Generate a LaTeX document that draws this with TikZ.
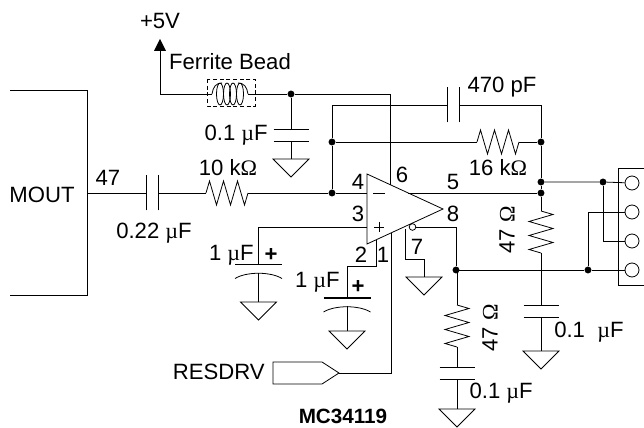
\documentclass[tikz,border=0pt]{standalone}
\usepackage{fontspec}
\setmainfont{Liberation Sans}
\newfontfamily\symfont{Liberation Serif}
\newcommand{\micro}{{\symfont µ}}
\newcommand{\ohm}{{\symfont Ω}}
\tikzset{
    wire/.style={line width=0.6pt},
    junction/.style={circle, fill=black, inner sep=0pt, minimum size=5.2pt},
    pinhole/.style={circle, draw, fill=white, line width=0.6pt, inner sep=0pt, minimum size=10.5pt},
    lbl/.style={inner sep=0pt, font=\fontsize{16.6}{19}\selectfont},
    pinlbl/.style={lbl},
    gndsym/.pic={\draw[wire] (-18,0) -- (18,0) -- (0,18) -- cycle;},
    resistor/.pic={\draw[wire] (0,0) -- (3.5,-12) -- (10.5,12) -- (17.5,-12) -- (24.5,12) -- (31.5,-12) -- (38.5,12) -- (42,0);},
    capacitor/.pic={\draw[wire] (-17.5,0) -- (17.5,0) (-17.5,12) -- (17.5,12);},
    polcap/.pic={\draw[line width=0.8pt] (-23.5,0) -- (23.5,0);
        \draw[wire] (-23.5,14) .. controls (-12,7) and (12,7) .. (23.5,14);}
}
\begin{document}
\begin{tikzpicture}[x=0.75pt, y=-0.75pt]
\useasboundingbox (0,0) rectangle (644,428);

% Junctions
\node[junction] (jbead) at (291,94) {};
\node[junction] (jfb) at (332,142) {};
\node[junction] (jin) at (332,193) {};
\node[junction] (jfbr) at (541,142) {};
\node[junction] (jout) at (541,182) {};
\node[junction] (jfive) at (541,193) {};
\node[junction] (jtop) at (603,182) {};
\node[junction] (jeight) at (456,270) {};
\node[junction] (jret) at (588,270) {};

% Connector block
\draw[wire] (10,90) -- (87,90) -- (87,295) -- (10,295);
\draw[wire] (644,168) -- (618,168) -- (618,285) -- (644,285);
\node[pinhole] (pina) at (632,183) {};
\node[pinhole] (pinb) at (632,212) {};
\node[pinhole] (pinc) at (632,241) {};
\node[pinhole] (pind) at (632,270) {};

% Amplifier
\coordinate (ampa) at (367,174);
\coordinate (ampb) at (367,244);
\coordinate (ampc) at (443,209);
\draw[wire] (ampa) -- (ampc) -- (ampb) -- cycle;
\draw[wire] (373,193) -- (385,193);
\draw[wire] (374,227) -- (384,227) (379,222) -- (379,232);
\node[circle, draw, line width=0.6pt, inner sep=0pt, minimum size=5pt] (bubble) at (412.5,227) {};

% Supply and ferrite bead
\coordinate (vcc) at (160,94);
\coordinate (beadl) at (212,94);
\coordinate (beadr) at (248,94);
\coordinate (sixtop) at (390,94);
\coordinate (sixa) at (390,185);
\draw[wire] (vcc) -- (beadl);
\draw[wire] (beadr) -- (jbead);
\draw[wire] (jbead) -- (sixtop) -- (sixa);
\draw[wire] (vcc) -- (160,50);
\fill (160,39) -- (166,51) -- (154,51) -- cycle;
\draw[wire, densely dashed] (207,79) rectangle (255,106);
\draw[wire] (beadl) .. controls (213,87) and (216,83) .. (222,83);
\draw[wire] (238,83) .. controls (244,83) and (247,87) .. (beadr);
\foreach \cx in {220,227,233,240} {\draw[wire] (\cx,94) ellipse (3.5 and 11);}
\draw[wire] (jbead) -- (291,129);
\pic at (291,129) {capacitor};
\draw[wire] (291,141) -- (291,159);
\pic at (291,159) {gndsym};

% Input path
\coordinate (inw) at (87,193);
\coordinate (cinl) at (146,193);
\coordinate (cinr) at (158,193);
\coordinate (rinl) at (206,193);
\coordinate (rinr) at (248,193);
\draw[wire] (inw) -- (cinl);
\pic[rotate=90] at (cinl) {capacitor};
\draw[wire] (cinr) -- (rinl);
\pic at (rinl) {resistor};
\draw[wire] (rinr) -- (jin);
\draw[wire] (jin) -- (367,193);
\draw[wire] (408,193) -- (jfive);

% Feedback
\coordinate (fbtop) at (332,105);
\coordinate (cfbl) at (447,105);
\coordinate (cfbr) at (459,105);
\coordinate (fbcorner) at (541,105);
\coordinate (rfbl) at (477,142);
\coordinate (rfbr) at (519,142);
\draw[wire] (jin) -- (jfb) -- (fbtop) -- (cfbl);
\pic[rotate=90] at (cfbl) {capacitor};
\draw[wire] (cfbr) -- (fbcorner) -- (jfbr) -- (jout) -- (jfive);
\draw[wire] (jfb) -- (rfbl);
\pic at (rfbl) {resistor};
\draw[wire] (rfbr) -- (jfbr);

% Output to connector
\draw[wire] (jout) -- (jtop) -- (pina);
\draw[wire] (jtop) -- (603,241) -- (pinc);
\draw[wire] (jret) -- (588,212) -- (pinb);
\draw[wire] (jeight) -- (jret) -- (pind);

% Snubber on pin 5
\coordinate (rsa) at (541,211);
\coordinate (rsb) at (541,253);
\draw[wire] (jfive) -- (rsa);
\pic[rotate=-90] at (rsa) {resistor};
\draw[wire] (rsb) -- (541,305);
\pic at (541,305) {capacitor};
\draw[wire] (541,317) -- (541,351);
\pic at (541,351) {gndsym};

% Snubber on pin 8
\coordinate (eighta) at (456,227);
\coordinate (rta) at (457,305);
\coordinate (rtb) at (457,347);
\draw[wire] (bubble) -- (eighta) -- (jeight);
\draw[wire] (jeight) -- (457,270) -- (rta);
\pic[rotate=-90] at (rta) {resistor};
\draw[wire] (rtb) -- (457,367);
\pic at (457,367) {capacitor};
\draw[wire] (457,379) -- (457,409);
\pic at (457,409) {gndsym};

% Pin 7
\draw[wire] (405,229) -- (405,259) -- (424,259) -- (424,277);
\pic at (424,277) {gndsym};

% Pin 3
\draw[wire] (367,227) -- (258.5,227) -- (258.5,264.5);
\pic at (258.5,264.5) {polcap};
\draw[wire] (258.5,273) -- (258.5,302);
\pic at (258.5,302) {gndsym};

% Pin 2
\draw[wire] (376,240) -- (376,266) -- (347,266) -- (347,298);
\pic at (347,298) {polcap};
\draw[wire] (347,306) -- (347,331);
\pic at (347,331) {gndsym};

% Pin 1 and RESDRV
\coordinate (tagtip) at (339,373);
\coordinate (onecorner) at (391,373);
\draw[wire] (273,362) -- (322,362) -- (tagtip) -- (322,384) -- (273,384) -- cycle;
\draw[wire] (tagtip) -- (onecorner) -- (391,233);

% Labels
\node[lbl] (lfive) at (160,21) {+5V};
\node[lbl] (lbead) at (230,62) {Ferrite Bead};
\node[lbl, anchor=east] (lcbead) at (268,135) {0.1 \micro F};
\node[lbl] (lpf) at (502,87) {470 pF};
\node[lbl] (lrfb) at (498,168) {16 k\ohm};
\node[lbl] (lrin) at (228,168) {10 k\ohm};
\node[lbl] (lmout) at (42,195) {MOUT};
\node[lbl] (lforty) at (108,178) {47};
\node[lbl] (lcin) at (154,233) {0.22 \micro F};
\node[lbl, anchor=east] (lone) at (254,255) {1 \micro F};
\node[lbl, font=\fontsize{16.6}{19}\bfseries] (lpa) at (271,255) {+};
\node[lbl, anchor=east] (ltwo) at (340,282) {1 \micro F};
\node[lbl, font=\fontsize{16.6}{19}\bfseries] (lpb) at (358,287) {+};
\node[pinlbl] (pfour) at (358,182) {4};
\node[pinlbl] (pthree) at (358,214) {3};
\node[pinlbl] (ptwo) at (361,255) {2};
\node[pinlbl] (pone) at (383,255) {1};
\node[pinlbl] (psix) at (402,175) {6};
\node[pinlbl] (pfivel) at (453,182) {5};
\node[pinlbl] (peight) at (453,214) {8};
\node[pinlbl] (pseven) at (417,247) {7};
\node[lbl, rotate=90] (lrs) at (507,230) {47 \ohm};
\node[lbl, rotate=90] (lrt) at (490,328) {47 \ohm};
\node[lbl, anchor=west] (lcs) at (554,332) {0.1\ \ \micro F};
\node[lbl, anchor=east] (lct) at (533,393) {0.1 \micro F};
\node[lbl, anchor=east] (lres) at (265,372) {RESDRV};
\node[lbl, font=\fontsize{15.5}{18}\selectfont\bfseries] (lchip) at (343,416) {MC34119};

\end{tikzpicture}
\end{document}
